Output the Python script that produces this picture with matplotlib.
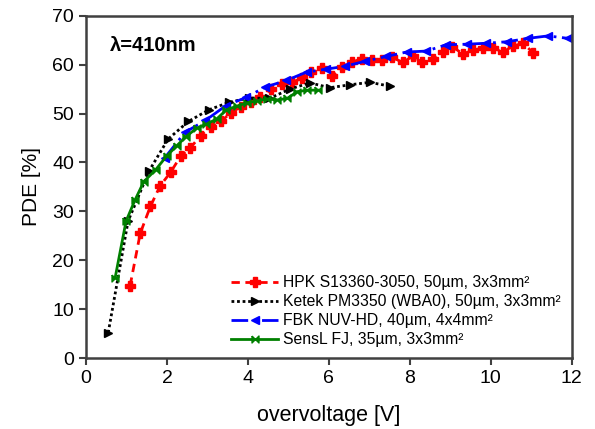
import numpy as np
import matplotlib.pyplot as plt
from matplotlib.path import Path

plt.rcParams['font.family'] = ['Liberation Sans', 'DejaVu Sans']

# データ
hpk_v = [1.09, 1.34, 1.59, 1.83, 2.09, 2.34, 2.58, 2.83, 3.08, 3.33, 3.57, 3.82, 4.07, 4.31,
         4.58, 4.83, 5.08, 5.33, 5.57, 5.82, 6.08, 6.32, 6.58, 6.82, 7.07, 7.32, 7.56, 7.82,
         8.07, 8.31, 8.58, 8.81, 9.05, 9.31, 9.56, 9.80, 10.05, 10.30, 10.54, 10.80, 11.05]
hpk_pde = [14.8, 25.5, 31.0, 35.2, 38.0, 41.3, 43.0, 45.5, 47.3, 48.4, 50.1, 51.4, 52.3, 53.3,
           55.1, 56.0, 56.4, 57.2, 58.5, 59.3, 57.7, 59.6, 60.6, 61.2, 61.0, 60.9, 61.5, 60.5,
           61.7, 60.5, 61.1, 62.7, 63.7, 62.2, 63.0, 63.4, 63.5, 62.6, 63.8, 64.4, 62.4]

ketek_v = [0.55, 1.04, 1.56, 2.03, 2.53, 3.04, 3.53, 4.02, 4.53, 5.03, 5.53, 6.02, 6.52, 7.01, 7.52]
ketek_pde = [5.2, 28.0, 38.3, 44.8, 48.4, 50.8, 52.3, 53.2, 53.1, 55.0, 56.3, 55.3, 55.9, 56.4, 55.6]

fbk_v = [1.95, 2.45, 2.95, 3.45, 3.95, 4.42, 4.95, 5.45, 5.94, 6.40, 6.89, 7.42, 7.92, 8.41,
         8.90, 9.40, 9.89, 10.39, 10.92, 11.41, 11.91]
fbk_pde = [41.0, 46.2, 48.6, 51.6, 53.3, 55.4, 56.8, 58.5, 59.1, 59.7, 60.7, 61.7, 62.6, 62.8,
           64.1, 64.2, 64.4, 64.7, 65.4, 65.9, 65.4]

sensl_v = [0.72, 0.99, 1.21, 1.43, 1.72, 1.99, 2.24, 2.47, 2.73, 2.96, 3.23, 3.47, 3.72, 3.97,
           4.22, 4.47, 4.72, 4.97, 5.22, 5.47, 5.72]
sensl_pde = [16.4, 28.0, 32.3, 36.1, 38.5, 41.3, 43.4, 45.3, 47.0, 47.8, 48.9, 50.8, 51.5, 52.2,
             52.6, 53.0, 52.8, 53.1, 54.5, 54.8, 54.8]

labels = ['HPK S13360-3050, 50µm, 3x3mm²',
          'Ketek PM3350 (WBA0), 50µm, 3x3mm²',
          'FBK NUV-HD, 40µm, 4x4mm²',
          'SensL FJ, 35µm, 3x3mm²']

# SensL用のマーカー (内向きの三角形2つ)
bowtie = Path([(-1, 1), (0, 0), (1, 1), (1, -1), (0, 0), (-1, -1), (-1, 1)])

fig = plt.figure(figsize=(5.95, 4.29), dpi=100)
ax = fig.add_axes([0.1445, 0.1655, 0.8165, 0.7975])

ax.plot(hpk_v, hpk_pde, color='#ff0000', ls=(0, (3, 2)), lw=2, marker='P', ms=6.5,
        mec='#ff0000', label=labels[0])
ax.plot(ketek_v, ketek_pde, color='black', ls=(0, (1, 1)), lw=2, marker='>', ms=6,
        label=labels[1])
ax.plot(fbk_v, fbk_pde, color='#0000ff', ls=(0, (6, 2, 1, 2)), lw=2, marker='<', ms=6,
        label=labels[2])
ax.plot(sensl_v, sensl_pde, color='#008000', ls='-', lw=2, marker=bowtie, ms=5,
        label=labels[3])

ax.set_xlim(0, 12)
ax.set_ylim(0, 70)
ax.set_xticks(np.arange(0, 13, 2))
ax.set_yticks(np.arange(0, 71, 10))
ax.tick_params(direction='out', labelsize=14, length=5, width=1.5, colors='#404040',
               labelcolor='black')
for s in ax.spines.values():
    s.set_linewidth(1.8)
    s.set_color('#404040')

ax.set_xlabel('overvoltage [V]', fontsize=15.5, labelpad=13)
ax.set_ylabel('PDE [%]', fontsize=15, labelpad=8)

ax.text(0.59, 64, 'λ=410nm', fontsize=14.5, fontweight='bold', va='center')

ax.legend(loc='lower right', bbox_to_anchor=(1.0, 0.0), frameon=False, fontsize=11.3,
          handlelength=3.0, handletextpad=0.3, labelspacing=0.25, borderaxespad=0.3)

fig.savefig('out.png', dpi=100)
